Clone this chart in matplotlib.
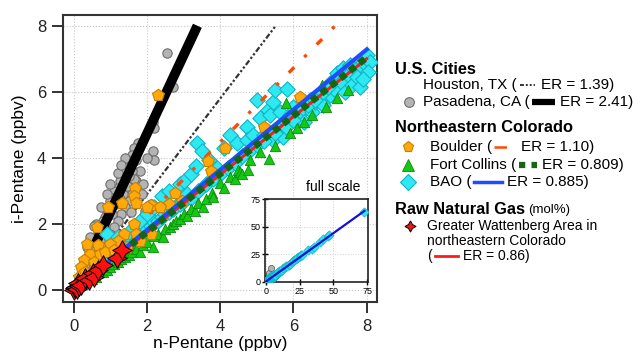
import numpy as np
import matplotlib.pyplot as plt
from matplotlib.lines import Line2D

plt.rcParams['font.family'] = ['Liberation Sans', 'DejaVu Sans']

# ---- data (ppbv) ----
pasadena_x = [2.54, 2.70, 2.15, 2.2, 2.15, 2.2, 1.75, 1.65, 1.6, 1.5, 1.45, 1.35, 1.3, 1.25, 1.2, 1.1, 1.05,
              1.0, 0.95, 0.9, 0.85, 0.8, 0.75, 0.7, 0.65, 0.6, 0.55, 0.5, 0.45, 0.4, 0.35, 0.3, 0.25, 0.2,
              0.15, 0.1, 0.05, 1.8, 1.7, 1.9, 1.6, 1.5, 1.4, 1.3, 1.2, 1.1, 1.0, 0.9, 0.8, 1.55, 1.75, 1.85,
              1.6, 1.2, 1.0, 0.9, 0.75, 0.6, 0.55, 0.45, 0.35, 1.4, 1.7, 2.0, 1.35, 1.15, 1.95, 2.1,
              1.05, 1.25, 1.45, 1.65, 0.85, 0.7, 0.5, 1.3, 1.5]
pasadena_y = [7.18, 6.15, 5.1, 4.9, 4.2, 3.95, 4.45, 4.3, 4.1, 3.9, 3.7, 3.6, 3.4, 3.3, 3.1, 3.0, 2.8,
              2.7, 2.5, 2.4, 2.2, 2.1, 1.95, 1.8, 1.7, 1.6, 1.45, 1.3, 1.2, 1.05, 0.9, 0.8, 0.65, 0.5,
              0.4, 0.25, 0.12, 3.6, 3.3, 3.2, 2.9, 2.7, 2.5, 2.3, 2.1, 1.9, 1.7, 1.5, 1.3, 2.35, 2.0, 2.9,
              3.6, 3.55, 3.2, 2.9, 2.5, 2.0, 1.95, 1.6, 1.3, 4.0, 3.95, 4.0, 2.9, 2.6, 2.4, 2.6,
              2.3, 2.75, 3.15, 3.35, 1.85, 1.5, 1.0, 3.8, 3.45]

bao_x = [0.2, 0.35, 0.45, 0.6, 0.7, 0.8, 0.9, 1.0, 1.1, 1.2, 1.3, 1.4, 1.5, 1.6, 1.7, 1.8, 1.9, 2.0,
         2.1, 2.2, 2.3, 2.4, 2.5, 2.6, 2.7, 2.8, 2.9, 3.0,
         0.9, 1.2, 1.5, 1.8, 2.0, 2.2, 2.4, 2.6, 2.9, 3.0, 3.2, 3.35, 3.36, 3.5, 3.7, 3.1,
         3.2, 3.4, 3.6, 3.8, 4.0, 4.2, 4.4, 4.6, 4.8, 5.0, 3.9, 4.1, 4.26, 4.45, 4.72, 4.73, 4.9,
         5.0, 5.1, 5.2, 5.3, 5.36, 5.44, 5.44, 5.5, 5.6, 5.63, 5.71, 5.8, 5.82, 5.9, 5.98, 6.09,
         6.2, 6.26, 6.3, 6.45, 6.5, 6.6, 6.7, 6.8, 6.9, 7.0, 7.0, 7.1, 7.19, 7.3, 7.35, 7.4, 7.5,
         7.55, 7.6, 7.7, 7.73, 7.81, 7.9, 8.0, 8.1, 8.05, 7.9,
         5.2, 5.5, 5.8, 6.0, 6.4, 6.6, 6.8, 6.95]
bao_y = [0.2, 0.3, 0.45, 0.55, 0.7, 0.75, 0.85, 0.95, 1.05, 1.1, 1.25, 1.3, 1.45, 1.5, 1.6, 1.65, 1.8, 1.85,
         1.95, 2.05, 2.1, 2.2, 2.3, 2.35, 2.45, 2.55, 2.6, 2.7,
         1.7, 1.6, 1.75, 2.1, 2.3, 2.5, 2.85, 3.0, 3.2, 3.3, 3.5, 3.75, 4.45, 4.2, 3.95, 2.9,
         2.8, 3.0, 3.2, 3.35, 3.5, 3.7, 3.85, 4.05, 4.25, 4.4, 3.7, 4.3, 4.7, 4.45, 4.95, 4.55, 4.7,
         5.76, 5.2, 4.7, 5.45, 5.3, 4.55, 5.7, 6.06, 4.85, 5.4, 4.64, 5.1, 6.09, 5.3, 5.55, 5.21,
         5.4, 5.5, 5.1, 5.76, 5.4, 5.7, 5.9, 5.6, 5.97, 6.27, 5.9, 6.1, 6.57, 6.3, 6.73, 6.0, 6.5,
         6.8, 6.2, 6.7, 6.45, 6.15, 6.9, 7.12, 6.9, 6.6, 6.4,
         4.5, 4.75, 4.95, 5.15, 5.6, 5.75, 6.0, 6.15]

fortcollins_x = [0.3, 0.5, 0.6, 0.8, 0.9, 1.0, 1.1, 1.2, 1.3, 1.4, 1.5, 1.6, 1.7, 1.8, 1.9, 2.0, 2.16, 2.2,
                 2.3, 2.43, 2.5, 2.62, 2.7, 2.8, 2.9, 3.0, 3.1, 3.2, 3.3, 3.4, 3.52, 3.6, 3.77, 3.8, 3.99,
                 4.1, 4.26, 4.4, 4.48, 4.54, 4.6, 4.75, 4.8, 5.08, 5.33, 5.5, 5.8, 5.9, 6.1, 6.3, 6.5,
                 6.77, 6.9, 7.2, 7.5]
fortcollins_y = [0.2, 0.35, 0.4, 0.55, 0.6, 0.7, 0.8, 0.85, 0.95, 1.0, 1.05, 1.15, 1.25, 1.15, 1.35, 1.45, 1.3, 1.65,
                 1.7, 1.6, 1.85, 1.91, 2.0, 2.1, 2.15, 2.3, 2.25, 2.45, 2.4, 2.65, 2.52, 2.75, 2.94, 2.82, 3.24,
                 3.1, 3.42, 3.35, 3.64, 3.58, 3.5, 3.64, 3.94, 4.18, 3.97, 4.35, 5.65, 4.75, 4.9, 5.1, 5.3,
                 6.2, 5.55, 5.8, 6.05]

boulder_x = [2.3, 6.17, 5.2, 4.13, 3.67, 3.75, 2.76, 2.6, 2.12, 2.0, 1.67, 1.64, 1.7, 1.31, 0.93, 0.62, 0.67,
             1.64, 1.7, 1.37, 1.2, 1.0, 0.44, 0.27, 0.36, 0.2, 0.13, 0.72, 1.45, 1.8, 2.1, 2.35, 2.95,
             0.55, 0.85, 1.1, 0.3, 0.05]
boulder_y = [5.9, 5.85, 4.95, 4.3, 3.9, 3.6, 2.93, 2.6, 2.58, 2.5, 3.08, 2.85, 2.65, 2.63, 2.52, 1.9, 1.35,
             2.0, 1.7, 1.7, 1.5, 1.4, 1.1, 0.9, 1.4, 0.7, 0.4, 1.1, 1.3, 1.5, 1.7, 2.5, 2.7,
             0.85, 1.15, 1.2, 0.55, 0.15]

gas_x = [0.0, 0.03, 0.05, 0.08, 0.11, 0.15, 0.2, 0.3, 0.4, 0.52, 0.55, 0.65, 0.79, 1.17, 1.31]
gas_y = [0.0, 0.05, 0.1, 0.04, 0.2, 0.12, 0.15, 0.36, 0.3, 0.52, 0.4, 0.6, 0.76, 0.97, 1.21]

# extra points only seen in the full-scale inset
bao_full_x = [8, 9, 10, 11, 12, 13, 14, 15, 16, 17, 18, 19, 20, 21, 22, 23, 24, 25, 26, 27,
              31, 34, 36, 40, 42, 46, 47, 73]
bao_full_y = [7.5, 8.5, 9.3, 10, 11, 12, 13, 14, 14.5, 15.5, 16.5, 17.5, 18.5, 19.5, 20.5, 21.5, 22.5,
              23.5, 24, 24.5, 28.5, 30, 32, 36, 38.5, 41.5, 43, 64]
pasadena_full_x = [1.0, 1.5, 2.0, 2.5, 3.5]
pasadena_full_y = [3.0, 4.5, 6.0, 8.0, 12.0]

# emission ratios quoted in the legend
er_text = {'houston': '1.39', 'pasadena': '2.41', 'boulder': '1.10',
           'fortcollins': '0.809', 'bao': '0.885', 'gas': '0.86'}
# slopes of the fit lines as they are drawn in the picture
slope_houston = 1.45
slope_pasadena = 2.37
slope_boulder = 1.12
slope_fortcollins = 0.88
slope_bao = 0.91
slope_gas = 0.875

# ---- figure ----
W, H = 642, 354
fig = plt.figure(figsize=(W / 100, H / 100), dpi=100)
ax = fig.add_axes([0.098, 0.147, 0.489, 0.811])

def fit(ax, k, x0, x1, **kw):
    xx = np.array([x0, x1])
    ax.plot(xx, k * xx, **kw)

c_gray, e_gray = '#b4b4b4', '#6e6e6e'
c_cyan, e_cyan = '#2fe9f2', '#12b4c4'
c_green, e_green = '#14c814', '#0a8a0a'
c_orange, e_orange = '#ffa90a', '#c98000'
c_boulder = '#ff4a00'

fit(ax, slope_houston, 0, 8 / slope_houston, color='#333333', lw=1.6, ls=(0, (2.5, 1, 1, 1, 1, 1)), zorder=1)
ax.scatter(pasadena_x, pasadena_y, s=45, marker='o', c=c_gray, edgecolors=e_gray, lw=0.8, zorder=2)
fit(ax, slope_pasadena, 0.6, 8 / slope_pasadena, color='black', lw=7, solid_capstyle='butt', zorder=3)
ax.scatter(bao_x, bao_y, s=62, marker='D', c=c_cyan, edgecolors=e_cyan, lw=0.8, zorder=4)
ax.scatter(fortcollins_x, fortcollins_y, s=55, marker='^', c=c_green, edgecolors=e_green, lw=0.6, zorder=5)
fit(ax, slope_boulder, 1.3, 8 / slope_boulder, color=c_boulder, lw=2.4, ls=(0, (2.3, 4.3, 1.0, 4.3)),
    zorder=5.5)
ax.scatter(boulder_x, boulder_y, s=80, marker='p', c=c_orange, edgecolors=e_orange, lw=0.8, zorder=6)
fit(ax, slope_gas, 0, 8.0, color='#ff1a1a', lw=2.2, zorder=7)
fit(ax, slope_bao, 0, 8.05, color='#1f4cff', lw=3, solid_capstyle='butt', zorder=7)
fit(ax, slope_fortcollins, 0, 8.0, color='#146614', lw=5, ls=(0, (1, 0.75)), dash_capstyle='butt', zorder=8)
ax.scatter(gas_x, gas_y, s=200, marker=(4, 1, 0), c='#ff1010', edgecolors='black', lw=0.7, zorder=9)

ax.set_xlim(-0.3, 8.28)
ax.set_ylim(-0.36, 8.33)
ax.set_xticks([0, 2, 4, 6, 8])
ax.set_yticks([0, 2, 4, 6, 8])
ax.grid(True, color='#c8c8c8', ls=':', lw=0.8)
ax.set_axisbelow(True)
ax.tick_params(direction='out', length=8, width=1.3, labelsize=12, colors='#222222', pad=4)
for sp in ax.spines.values():
    sp.set_linewidth(1.5)
    sp.set_color('#333333')
ax.set_xlabel('n-Pentane (ppbv)', fontsize=12.5, labelpad=2)
ax.set_ylabel('i-Pentane (ppbv)', fontsize=12.5, labelpad=7)

# ---- full scale inset ----
ins = fig.add_axes([0.413, 0.203, 0.160, 0.235])
ins.scatter(bao_x + bao_full_x, bao_y + bao_full_y, s=22, marker='D', c=c_cyan,
            edgecolors=e_cyan, lw=0.5, zorder=3)
ins.scatter(pasadena_x + pasadena_full_x, pasadena_y + pasadena_full_y, s=20, marker='o',
            c=c_gray, edgecolors='#555555', lw=0.5, zorder=2)
fit(ins, 0.885, 0, 73, color='#1010d8', lw=1.6, zorder=4)
ins.set_xlim(-0.5, 75.5)
ins.set_ylim(-0.5, 75.5)
ins.set_xticks([0, 25, 50, 75])
ins.set_yticks([0, 25, 50, 75])
ins.grid(True, color='#d0d0d0', ls=':', lw=0.7)
ins.set_axisbelow(True)
ins.tick_params(direction='inout', length=5, width=1, labelsize=6.5, pad=1)
for sp in ins.spines.values():
    sp.set_linewidth(1.2)
    sp.set_color('#222222')
fig.text(360 / W, 1 - 187 / H, 'full scale', fontsize=10, ha='right', va='center')

# ---- legend drawn at right ----
fig.canvas.draw()
rend = fig.canvas.get_renderer()

def put_text(x, y, s, **kw):
    t = fig.text(x / W, 1 - y / H, s, va='center', ha='left', **kw)
    return t.get_window_extent(rend).x1

def put_line(x0, x1, y, **kw):
    fig.add_artist(Line2D([x0 / W, x1 / W], [1 - y / H, 1 - y / H], transform=fig.transFigure, **kw))

def put_marker(x, y, **kw):
    fig.add_artist(Line2D([x / W], [1 - y / H], transform=fig.transFigure, ls='none', **kw))

fs = 11
fh = 11.8
put_text(395, 70, 'U.S. Cities', fontsize=fh, fontweight='bold')
x = put_text(423, 85, 'Houston, TX (', fontsize=fs)
put_line(x + 3, x + 18, 85, color='#333333', lw=1.4, ls=(0, (2, 1, 1, 1, 1, 1)))
put_text(x + 24, 85, 'ER = ' + er_text['houston'] + ')', fontsize=fs)
put_marker(409, 102, marker='o', ms=7, mfc=c_gray, mec=e_gray, mew=0.8)
x = put_text(423, 102, 'Pasadena, CA (', fontsize=fs)
put_line(x + 2, x + 25, 102, color='black', lw=4.5, solid_capstyle='butt')
put_text(x + 30, 102, 'ER = ' + er_text['pasadena'] + ')', fontsize=fs)

put_text(395, 128, 'Northeastern Colorado', fontsize=fh, fontweight='bold')
put_marker(408, 147, marker='p', ms=8, mfc=c_orange, mec=e_orange, mew=0.8)
x = put_text(430, 147, 'Boulder (', fontsize=fs)
put_line(x + 2, x + 24, 147, color=c_boulder, lw=1.8, ls=(0, (5, 4, 1.5, 4)))
put_text(x + 29, 147, 'ER = ' + er_text['boulder'] + ')', fontsize=fs)
put_marker(408, 165, marker='^', ms=8, mfc=c_green, mec=e_green, mew=0.6)
x = put_text(430, 165, 'Fort Collins (', fontsize=fs)
put_line(x + 3, x + 21, 165, color='#146614', lw=4.5, ls=(0, (1, 1)), dash_capstyle='butt')
put_text(x + 26, 165, 'ER = ' + er_text['fortcollins'] + ')', fontsize=fs)
put_marker(408, 182, marker='D', ms=8, mfc=c_cyan, mec=e_cyan, mew=0.8)
x = put_text(430, 182, 'BAO (', fontsize=fs)
put_line(x + 2, x + 30, 182, color='#1f4cff', lw=2.5)
put_text(x + 35, 182, 'ER = ' + er_text['bao'] + ')', fontsize=fs)

x = put_text(395, 210, 'Raw Natural Gas', fontsize=fh, fontweight='bold')
put_text(x + 3, 210, '(mol%)', fontsize=9.5)
put_marker(410, 226, marker=(4, 1, 0), ms=8, mfc='#ff1010', mec='black', mew=0.7)
put_text(427, 226, 'Greater Wattenberg Area in', fontsize=10)
put_text(427, 241, 'northeastern Colorado', fontsize=10)
x = put_text(427, 256, '(', fontsize=10)
put_line(x + 3, x + 26, 256, color='#ff1a1a', lw=2)
put_text(x + 31, 256, 'ER = ' + er_text['gas'] + ')', fontsize=10)

fig.savefig('out.png', dpi=100)
